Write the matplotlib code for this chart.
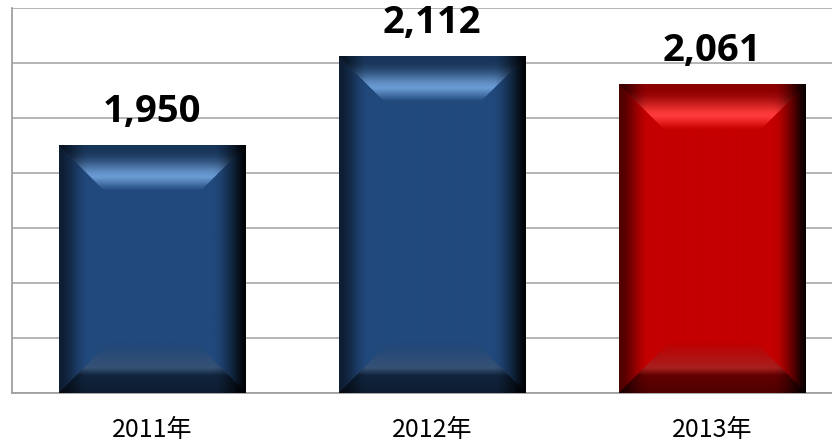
import numpy as np
import matplotlib.pyplot as plt
from matplotlib.colors import to_rgb

years = ['2011年', '2012年', '2013年']
values = [1950, 2112, 2061]
bar_colors = ['#21497C', '#21497C', '#C40000']
top_light = ['#6A9AD2', '#6A9AD2', '#FF3A3A']
y_min, y_max, y_step = 1500, 2200, 100

plt.rcParams['font.family'] = ['Noto Sans CJK JP', 'DejaVu Sans']


def smooth(t):
    t = np.clip(t, 0, 1)
    return t * t * (3 - 2 * t)


def lerp(a, b, t):
    t = np.clip(t, 0, 1)[:, None]
    return a * (1 - t) + b * t


def bevel(W, H, base, light, bt=45, bb=50, bl=30, br=34):
    # shading of one bar, pixel grid, row 0 = top
    xx, yy = np.meshgrid(np.arange(W) + 0.5, np.arange(H) + 0.5)
    base = np.array(to_rgb(base))
    light = np.array(to_rgb(light))
    dl = xx / bt
    dr = (W - xx) / bt
    dt = yy / bt
    db = (H - yy) / bb
    img = np.ones((H, W, 3)) * base

    top = (dt < 1) & (dt <= dl) & (dt <= dr)
    t = dt[top]
    up = lerp(base * 0.72, light, smooth(t / 0.72) ** 1.6)
    down = lerp(light, base * 1.02, (t - 0.72) / 0.28)
    img[top] = np.where((t < 0.72)[:, None], up, down)

    dlb = xx / bb
    drb = (W - xx) / bb
    bot = (db < 1) & (db <= dlb) & (db <= drb) & ~top
    s = db[bot]
    band = base * 0.7 + 0.12
    lo = lerp(base * 0.4, base * 0.5, s / 0.35)
    mid = lerp(base * 0.5, band, (s - 0.35) / 0.15)
    hi = lerp(band, base * 0.97, (s - 0.5) / 0.5)
    img[bot] = np.where((s < 0.35)[:, None], lo,
                        np.where((s < 0.5)[:, None], mid, hi))

    # darker towards the left and (more) the right edge
    h = (0.4 + 0.6 * smooth(xx / bl)) * (0.04 + 0.96 * smooth(((W - xx) / br) ** 0.8))
    img = img * h[:, :, None]
    return np.clip(img, 0, 1)


fig = plt.figure(figsize=(8.32, 4.43), dpi=100)
ax = fig.add_axes([12 / 832, 50 / 443, 840 / 832, 385 / 443])

x = np.arange(len(years))
heights = np.array(values) - y_min
bars = ax.bar(x, heights, bottom=y_min, width=0.665, color=bar_colors, zorder=2)

ax.set_xlim(-0.5, len(years) - 0.5)
ax.set_ylim(y_min, y_max)
ax.set_yticks(np.arange(y_min, y_max + 1, y_step))
ax.yaxis.grid(True, color='#A0A0A0', linewidth=1.1)
ax.set_axisbelow(True)
ax.tick_params(axis='y', length=0, labelleft=False)
ax.tick_params(axis='x', length=0, pad=17)
ax.set_xticks(x)
ax.set_xticklabels(years, fontsize=18)

for side in ['top', 'right']:
    ax.spines[side].set_visible(False)
for side in ['left', 'bottom']:
    ax.spines[side].set_color('#A0A0A0')
    ax.spines[side].set_linewidth(1.3)

# bevel images over each bar
for rect, c, lc in zip(bars, bar_colors, top_light):
    x0, y0 = rect.get_x(), rect.get_y()
    x1, y1 = x0 + rect.get_width(), y0 + rect.get_height()
    (px0, py0), (px1, py1) = ax.transData.transform([(x0, y0), (x1, y1)])
    W, H = int(round(px1 - px0)), int(round(py1 - py0))
    ax.imshow(bevel(W, H, c, lc), extent=(x0, x1, y0, y1), aspect='auto',
              interpolation='bilinear', zorder=3)

for xi, v in zip(x, values):
    ax.annotate(f'{v:,}', (xi, v), xytext=(0, 17), textcoords='offset points',
                ha='center', va='baseline', fontsize=27.5, fontweight='bold',
                family=['Open Sans', 'DejaVu Sans'])

ax.set_xlim(-0.5, len(years) - 0.5)
ax.set_ylim(y_min, y_max)

fig.savefig('out.png', dpi=100)
